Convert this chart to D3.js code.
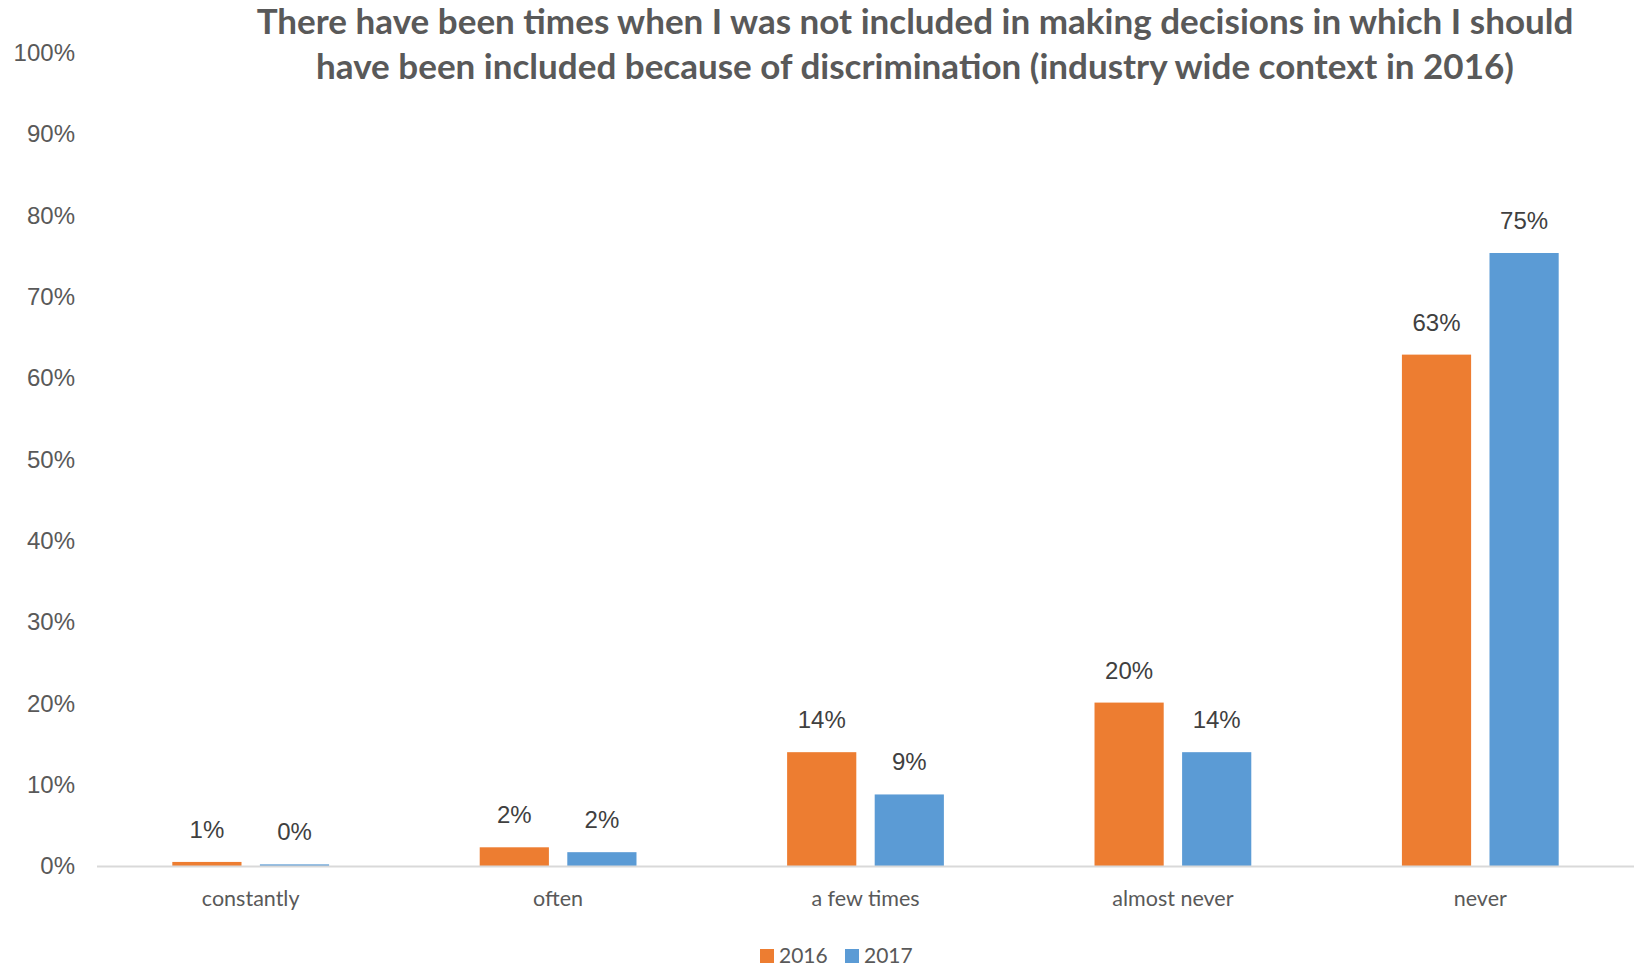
<!DOCTYPE html>
<html>
<head>
<meta charset="utf-8">
<script src="https://cdn.jsdelivr.net/npm/d3@7"></script>
<style>
  body { margin: 0; background: #fff; }
  svg { display: block; }
</style>
</head>
<body>
<figure id="bar" style="margin:0"></figure>
<script>
// chart data
const categories = ["constantly", "often", "a few times", "almost never", "never"];
const seriesNames = ["2016", "2017"];
const values2016 = [0.5, 2.3, 14.0, 20.1, 62.9];
const values2017 = [0.2, 1.7, 8.8, 14.0, 75.4];
const valueLabels2016 = ["1%", "2%", "14%", "20%", "63%"];
const valueLabels2017 = ["0%", "2%", "9%", "14%", "75%"];
const yTicks = [0, 10, 20, 30, 40, 50, 60, 70, 80, 90, 100];
const titleLines = [
  "There have been times when I was not included in making decisions in which I should",
  "have been included because of discrimination (industry wide context in 2016)"
];

const colors = { "2016": "#ED7D31", "2017": "#5B9BD5" };

const width = 1639, height = 968;
const plotLeft = 97, plotRight = 1634, plotTop = 53, plotBottom = 866;

const svg = d3.select("figure#bar")
  .append("svg")
  .attr("width", width)
  .attr("height", height);

// scales
const x0 = d3.scaleBand()
  .domain(categories)
  .range([plotLeft, plotRight])
  .padding(0);

const groupWidth = x0.bandwidth() * 0.51;
const x1 = d3.scaleBand()
  .domain(seriesNames)
  .range([-groupWidth / 2, groupWidth / 2])
  .paddingInner(0.21)
  .paddingOuter(0);

const y = d3.scaleLinear()
  .domain([0, 100])
  .range([plotBottom, plotTop]);

// y axis labels
const yAxis = svg.append("g")
  .attr("transform", "translate(" + (plotLeft - 22) + ",0)")
  .call(d3.axisLeft(y).tickValues(yTicks).tickSize(0).tickPadding(0).tickFormat(d => d + "%"));
yAxis.select(".domain").remove();
yAxis.selectAll("text")
  .attr("font-family", "'Liberation Sans', Arial, sans-serif")
  .attr("font-size", 24)
  .attr("fill", "#595959");

// bars
const rows = categories.map((c, i) => ({
  cat: c,
  items: [
    { s: "2016", v: values2016[i], label: valueLabels2016[i] },
    { s: "2017", v: values2017[i], label: valueLabels2017[i] }
  ]
}));

const groups = svg.selectAll("g.grp")
  .data(rows)
  .enter()
  .append("g")
  .attr("class", "grp")
  .attr("transform", d => "translate(" + (x0(d.cat) + x0.bandwidth() / 2) + ",0)");

groups.selectAll("rect")
  .data(d => d.items)
  .enter()
  .append("rect")
  .attr("x", d => x1(d.s))
  .attr("y", d => y(d.v))
  .attr("width", x1.bandwidth())
  .attr("height", d => plotBottom - y(d.v))
  .attr("fill", d => colors[d.s]);

groups.selectAll("text")
  .data(d => d.items)
  .enter()
  .append("text")
  .attr("x", d => x1(d.s) + x1.bandwidth() / 2)
  .attr("y", d => y(d.v) - 24)
  .attr("text-anchor", "middle")
  .attr("font-family", "'Liberation Sans', Arial, sans-serif")
  .attr("font-size", 24)
  .attr("fill", "#404040")
  .text(d => d.label);

// baseline
svg.append("line")
  .attr("x1", plotLeft)
  .attr("x2", plotRight)
  .attr("y1", y(0) + 0.5)
  .attr("y2", y(0) + 0.5)
  .attr("stroke", "#D9D9D9")
  .attr("stroke-width", 2);

// category labels
const xAxis = svg.append("g")
  .attr("transform", "translate(0," + (plotBottom + 32) + ")")
  .call(d3.axisBottom(x0).tickSize(0).tickPadding(0));
xAxis.select(".domain").remove();
xAxis.selectAll("text")
  .attr("dy", "0.35em")
  .attr("font-family", "Lato, 'Open Sans', sans-serif")
  .attr("font-size", 21.5)
  .attr("fill", "#595959");

// title
const title = svg.append("g");
const titleY = [34, 79];
titleLines.forEach((t, i) => {
  title.append("text")
    .attr("x", 915)
    .attr("y", titleY[i])
    .attr("text-anchor", "middle")
    .attr("font-family", "Lato, 'Open Sans', sans-serif")
    .attr("font-weight", "bold")
    .attr("font-size", 32)
    .attr("fill", "#595959")
    .text(t);
});
// fit first line to the reference width
const tNode = title.select("text").node();
const w = tNode.getComputedTextLength();
title.selectAll("text").attr("font-size", 32 * 1317 / w);

// legend
const legend = svg.append("g").attr("transform", "translate(760,956)");
const legendX = [0, 85];
seriesNames.forEach((s, i) => {
  const g = legend.append("g").attr("transform", "translate(" + legendX[i] + ",0)");
  g.append("rect")
    .attr("x", 0).attr("y", -7)
    .attr("width", 14).attr("height", 14)
    .attr("fill", colors[s]);
  g.append("text")
    .attr("x", 19).attr("y", 0)
    .attr("dy", "0.35em")
    .attr("font-family", "Lato, 'Open Sans', sans-serif")
    .attr("font-size", 21)
    .attr("fill", "#595959")
    .text(s);
});
</script>
</body>
</html>
